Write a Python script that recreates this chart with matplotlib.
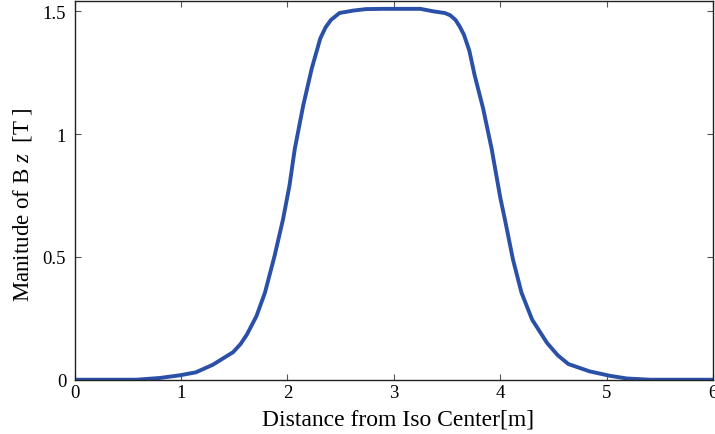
import matplotlib.pyplot as plt
import numpy as np

plt.rcParams['font.family'] = 'Liberation Serif'
plt.rcParams['mathtext.fontset'] = 'custom'
plt.rcParams['mathtext.rm'] = 'Liberation Serif'
plt.rcParams['mathtext.it'] = 'Liberation Serif:italic'

# distance from iso center [m] and magnitude of Bz [T]
dist = [0.0, 0.58, 0.80, 0.99, 1.14, 1.30, 1.49, 1.56, 1.62, 1.71, 1.79, 1.88, 1.96,
        2.02, 2.07, 2.15, 2.23, 2.31, 2.36, 2.41, 2.49, 2.62, 2.74, 2.90, 3.25, 3.37, 3.48,
        3.53, 3.58, 3.62, 3.66, 3.71, 3.76, 3.84, 3.92, 4.00, 4.05, 4.12, 4.20, 4.30, 4.44,
        4.54, 4.64, 4.84, 5.03, 5.19, 5.41, 6.0]
bz = [0.0, 0.0, 0.007, 0.018, 0.030, 0.061, 0.112, 0.145, 0.184, 0.259, 0.355, 0.504, 0.654,
      0.790, 0.940, 1.118, 1.268, 1.390, 1.435, 1.465, 1.493, 1.503, 1.509, 1.510, 1.510, 1.500, 1.493,
      1.484, 1.465, 1.438, 1.404, 1.340, 1.240, 1.104, 0.940, 0.744, 0.641, 0.490, 0.355, 0.245, 0.150,
      0.100, 0.064, 0.034, 0.016, 0.005, 0.0, 0.0]

fig = plt.figure(figsize=(7.15, 4.35), dpi=100)
ax = fig.add_axes([0.1042, 0.1248, 0.8930, 0.8712])

ax.plot(dist, bz, color='#2b50a8', linewidth=2.8, solid_joinstyle='round')

ax.set_xlim(0, 6)
ax.set_ylim(0, 1.543)
ax.set_xticks([0, 1, 2, 3, 4, 5, 6])
ax.set_xticklabels(['0', '1', '2', '3', '4', '5', '6'])
ax.set_yticks([0, 0.5, 1, 1.5])
ax.set_yticklabels(['0', '0.5', '1', '1.5'])
ax.tick_params(direction='in', length=4, width=0.8, color='#555555',
               top=True, right=True, labelsize=13.5)
ax.tick_params(axis='x', pad=3)
ax.tick_params(axis='y', pad=6)
for s in ax.spines.values():
    s.set_linewidth(1.0)
    s.set_color('#222222')

ax.set_xlabel('Distance from Iso Center[m]', fontsize=17)
ax.xaxis.set_label_coords(0.507, -0.075)
ax.set_ylabel(r'Manitude of B $z$  [T ]', fontsize=16.5)
ax.yaxis.set_label_coords(-0.064, 0.464)

fig.savefig('out.png', dpi=100)
